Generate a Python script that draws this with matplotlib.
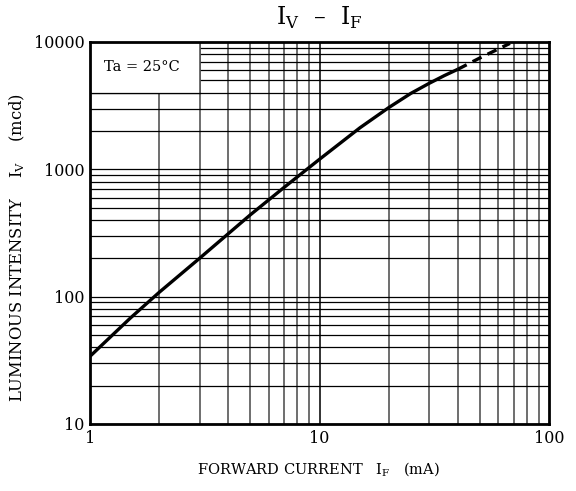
import numpy as np
import matplotlib.pyplot as plt
from matplotlib.patches import Rectangle

plt.rcParams['font.family'] = ['DejaVu Serif']
plt.rcParams['mathtext.fontset'] = 'custom'
plt.rcParams['mathtext.rm'] = 'DejaVu Serif'

# 正向电流 - 发光强度 (实线部分)
if_solid = [1, 1.5, 2, 3, 5, 7, 10, 15, 20, 25, 30, 35, 40]
iv_solid = [34, 68, 108, 200, 440, 720, 1200, 2120, 3050, 3950, 4730, 5450, 6100]
# 外推部分 (虚线)
if_dash = [40, 50, 67.5]
iv_dash = [6100, 7500, 9750]

x_ticks = [1, 10, 100]
y_ticks = [10, 100, 1000, 10000]

fig = plt.figure(figsize=(5.76, 4.91), dpi=100)
ax = fig.add_axes([0.1563, 0.1365, 0.797, 0.778])
ax.set_xscale('log')
ax.set_yscale('log')
ax.set_xlim(1, 100)
ax.set_ylim(10, 10000)

# 网格线
for d in [1, 10]:
    for m in range(2, 10):
        ax.axvline(m * d, color='#555555', lw=1.2, zorder=1)
ax.axvline(10, color='#333333', lw=1.4, zorder=1)
for d in [10, 100, 1000]:
    for m in range(1, 10):
        ax.axhline(m * d, color='black', lw=0.9, zorder=1)

# 左上角说明框
ax.add_patch(Rectangle((1, 4000), 2, 6000, facecolor='white', edgecolor='none', zorder=2))
ax.plot([3, 3], [4000, 10000], color='#555555', lw=1.2, zorder=2.5)
ax.plot([1, 3], [4000, 4000], color='black', lw=0.9, zorder=2.5)
ax.text(1.68, 6400, 'Ta = 25°C', ha='center', va='center', fontsize=10.5, zorder=3)

ax.plot(if_solid, iv_solid, color='black', lw=2.4, zorder=4, solid_capstyle='butt')
ax.plot(if_dash, iv_dash, color='black', lw=2.4, ls=(0, (3, 2)), zorder=4)

ax.set_xticks(x_ticks)
ax.set_xticklabels([str(v) for v in x_ticks])
ax.set_yticks(y_ticks)
ax.set_yticklabels([str(v) for v in y_ticks])
ax.minorticks_off()
ax.tick_params(length=0, labelsize=11.5, pad=4)
for s in ax.spines.values():
    s.set_linewidth(2)
    s.set_zorder(5)

fig.text(0.555, 1 - 18 / 491, r'I$_\mathregular{V}$  –  I$_\mathregular{F}$',
         fontsize=17, ha='center', va='center')
fig.text(319 / 576, 1 - 470 / 491, r'FORWARD CURRENT   I$_\mathregular{F}$   (mA)',
         fontsize=10.5, ha='center', va='center')
fig.text(17 / 576, 1 - 248 / 491, r'LUMINOUS INTENSITY    I$_\mathregular{V}$    (mcd)',
         fontsize=11.8, ha='center', va='center', rotation=90)

fig.savefig('out.png', dpi=100)
